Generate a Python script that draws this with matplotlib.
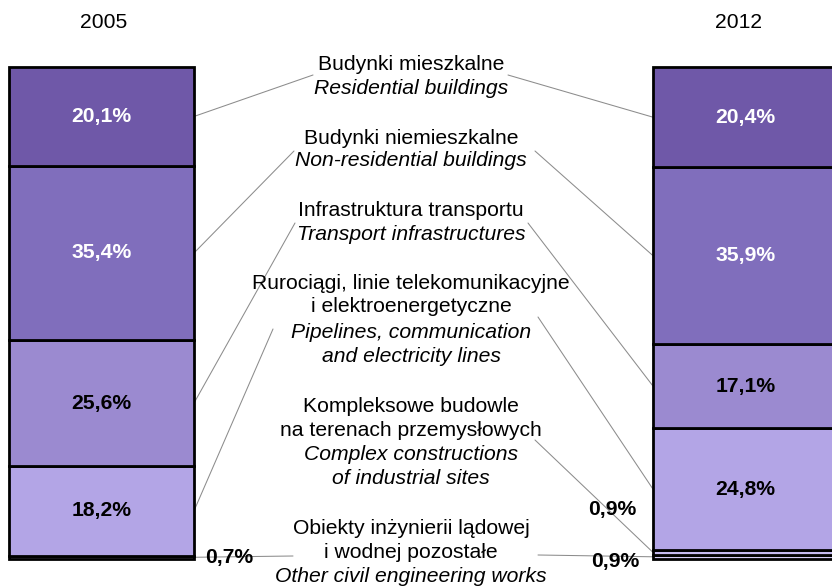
import matplotlib
matplotlib.use('Agg')
import matplotlib.pyplot as plt
import numpy as np

plt.rcParams['font.family'] = ['Liberation Sans', 'DejaVu Sans']

# ------------------------------------------------------------
# dane (udział w %)
# ------------------------------------------------------------
years = ['2005', '2012']
other_works = [0.7, 0.9]
complex_sites = [0.0, 0.9]
pipelines = [18.2, 24.8]
transport = [25.6, 17.1]
non_residential = [35.4, 35.9]
residential = [20.1, 20.4]

segments = [other_works, complex_sites, pipelines, transport, non_residential, residential]
colors = ['#D5CDF4', '#C5BAEE', '#B3A5E6', '#9B8AD0', '#806EBC', '#6F58A8']
label_colors = ['black', 'black', 'black', 'black', 'white', 'white']

FS = 15.2
W, H = 832, 587

def P(x, y):
    # piksele obrazka (od lewego górnego rogu) -> ułamek figury
    return x / W, 1 - y / H

def pct(v):
    return f'{v:.1f}'.replace('.', ',') + '%'

fig = plt.figure(figsize=(W / 100, H / 100), dpi=100)
ax = fig.add_axes([0, 0, 1, 1])
ax.axis('off')

x = np.array([0.0, 1.0])
bw = 0.2873
ax.set_xlim(-0.1576, 1.1343)
ax.set_ylim(-5.69, 113.62)

bottom = np.zeros(2)
mids = []
for vals, col, tcol in zip(segments, colors, label_colors):
    vals = np.array(vals)
    for i in range(2):
        if vals[i] > 0:
            ax.bar(x[i], vals[i], bottom=bottom[i], width=bw, color=col,
                   edgecolor='black', linewidth=2.0, zorder=2)
            if vals[i] > 5:
                ax.text(x[i], bottom[i] + vals[i] / 2, pct(vals[i]), ha='center',
                        va='center', fontsize=FS, fontweight='bold', color=tcol, zorder=3)
    mids.append(bottom + vals / 2)
    bottom = bottom + vals

# lata nad słupkami
fig.text(*P(104, 22), years[0], ha='center', va='center', fontsize=FS)
fig.text(*P(739, 22), years[1], ha='center', va='center', fontsize=FS)

# opisy kategorii w środku
center_lines = [
    ('Budynki mieszkalne', 'normal', 65),
    ('Residential buildings', 'italic', 88),
    ('Budynki niemieszkalne', 'normal', 138),
    ('Non-residential buildings', 'italic', 161),
    ('Infrastruktura transportu', 'normal', 211),
    ('Transport infrastructures', 'italic', 234),
    ('Rurociągi, linie telekomunikacyjne', 'normal', 284),
    ('i elektroenergetyczne', 'normal', 307),
    ('Pipelines, communication', 'italic', 332),
    ('and electricity lines', 'italic', 356),
    ('Kompleksowe budowle', 'normal', 406),
    ('na terenach przemysłowych', 'normal', 430),
    ('Complex constructions', 'italic', 455),
    ('of industrial sites', 'italic', 479),
    ('Obiekty inżynierii lądowej', 'normal', 528),
    ('i wodnej pozostałe', 'normal', 552),
    ('Other civil engineering works', 'italic', 576),
]
for txt, style, yy in center_lines:
    fig.text(*P(411, yy), txt, ha='center', va='center', fontsize=FS, style=style)

# linie odniesienia: (indeks segmentu, słupek, koniec przy tekście w pikselach)
leaders = [
    (5, 0, (313, 75)), (5, 1, (508, 75)),
    (4, 0, (294, 151)), (4, 1, (535, 151)),
    (3, 0, (295, 223)), (3, 1, (528, 223)),
    (2, 0, (273, 329)), (2, 1, (538, 317)),
    (1, 1, (535, 440)),
    (0, 0, (293, 556)), (0, 1, (538, 555)),
]
for seg, i, (tx, ty) in leaders:
    edge = x[i] + bw / 2 if i == 0 else x[i] - bw / 2
    ax.annotate('', xy=(edge, mids[seg][i]), xycoords='data',
                xytext=P(tx, ty), textcoords='figure fraction',
                arrowprops=dict(arrowstyle='-', color='#8C8C8C', lw=0.75,
                                shrinkA=0, shrinkB=0), zorder=1)

# małe udziały opisane obok słupków
fig.text(*P(229, 558), pct(other_works[0]), ha='center', va='center',
         fontsize=FS, fontweight='bold', zorder=4)
fig.text(*P(612, 510), pct(complex_sites[1]), ha='center', va='center',
         fontsize=FS, fontweight='bold', zorder=4)
fig.text(*P(615, 562), pct(other_works[1]), ha='center', va='center',
         fontsize=FS, fontweight='bold', zorder=4)

plt.savefig('out.png', dpi=100)
